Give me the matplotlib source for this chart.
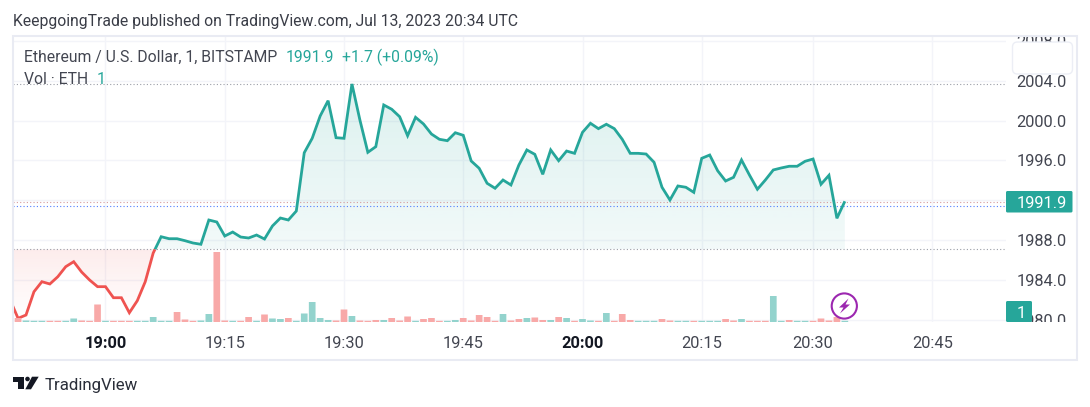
"""TradingView style ETH/USD baseline chart with volume bars."""
import matplotlib
matplotlib.use("Agg")
import matplotlib.pyplot as plt
import numpy as np
from matplotlib.patches import Circle, FancyBboxPatch, Polygon, Rectangle

plt.rcParams["font.family"] = ["Roboto", "DejaVu Sans"]

# one value per minute bar, bar 0 is 19:00
first_bar = -12
close = [
    1982.0, 1980.14, 1980.47, 1982.81, 1983.82, 1983.59, 1984.32, 1985.33, 1985.83, 1984.79,
    1983.99, 1983.32, 1983.32, 1982.21, 1982.21, 1980.70, 1981.91, 1983.82, 1986.70, 1988.34,
    1988.14, 1988.14, 1987.94, 1987.71, 1987.58, 1990.02, 1989.82, 1988.41, 1988.81, 1988.31,
    1988.21, 1988.51, 1988.11, 1989.42, 1990.22, 1990.02, 1990.92, 1996.78, 1998.23, 2000.47,
    2002.01, 1998.29, 1998.23, 2003.69, 2000.07, 1996.82, 1997.39, 2001.58, 2001.15, 2000.40,
    1998.49, 2000.34, 1999.67, 1998.66, 1998.13, 1997.99, 1998.79, 1998.53, 1995.95, 1995.22,
    1993.71, 1993.21, 1994.04, 1993.54, 1995.55, 1997.06, 1996.62, 1994.61, 1997.06, 1995.98,
    1996.95, 1996.72, 1998.83, 1999.74, 1999.20, 1999.64, 1999.20, 1998.13, 1996.72, 1996.72,
    1996.65, 1995.82, 1993.31, 1992.03, 1993.44, 1993.31, 1992.80, 1996.22, 1996.55, 1994.97,
    1993.94, 1994.31, 1996.05, 1994.54, 1993.11, 1994.04, 1995.05, 1995.25, 1995.42, 1995.42,
    1995.92, 1996.15, 1993.61, 1994.51, 1990.19, 1991.9,
]
volume = [
    1.2, 4, 1.5, 1.2, 1.2, 1.2, 1.2, 1.2, 3.5, 1.5,
    1.2, 17.5, 1.2, 1.2, 1.2, 1.2, 1.2, 1.2, 5, 1.2,
    1.2, 10, 2.5, 1.2, 1.5, 8, 70, 1.5, 1.2, 1.2,
    5, 1.2, 7.5, 3.5, 3, 4, 1.2, 8.5, 20, 4,
    2, 1.5, 12.5, 6, 1.5, 1.2, 2, 2, 4, 1.5,
    5.5, 1.2, 3, 4, 1.2, 1.2, 2, 4, 1.5, 7,
    5, 1.2, 8, 1.5, 3, 4, 4.5, 2, 2, 5,
    4, 1.2, 3, 1.5, 1.2, 9, 1.2, 8, 2, 1.2,
    1.2, 1.2, 3, 1.5, 1.2, 1.2, 1.2, 1.2, 1.2, 1.2,
    3, 1.5, 3, 1.2, 1.2, 1.2, 26, 1.2, 2, 1.2,
    1.2, 1.2, 3.5, 1.5, 5, 1.2,
]
# 1 = up candle (green), 0 = down candle (red)
volume_up = [
    0, 0, 1, 1, 1, 0, 0, 1, 1, 0,
    0, 0, 1, 0, 0, 0, 1, 1, 1, 1,
    1, 0, 0, 0, 1, 1, 0, 0, 1, 0,
    0, 1, 0, 1, 1, 0, 1, 1, 1, 1,
    1, 0, 0, 1, 0, 0, 0, 1, 0, 0,
    0, 1, 0, 0, 0, 1, 1, 0, 0, 0,
    0, 0, 1, 0, 0, 1, 0, 0, 1, 0,
    1, 0, 1, 1, 0, 1, 0, 0, 0, 1,
    1, 1, 0, 0, 1, 1, 0, 1, 1, 1,
    0, 0, 1, 0, 0, 0, 1, 1, 0, 1,
    1, 0, 0, 0, 0, 1,
]

price_ticks = [1980, 1984, 1988, 1992, 1996, 2000, 2004, 2008]
price_labels = ["1980.0", "1984.0", "1988.0", "", "1996.0", "2000.0", "2004.0", "2008.0"]
time_ticks = [0, 15, 30, 45, 60, 75, 89, 104]
time_labels = ["19:00", "19:15", "19:30", "19:45", "20:00", "20:15", "20:30", "20:45"]
bold_times = ["19:00", "20:00"]

baseline = 1987.07
session_high = 2003.72
prev_close = 1991.86
bid_line = 1991.43

TEAL = "#26a69a"
RED = "#ef5350"
GRID = "#f3f4f9"
FRAME = "#e9ebf3"
TEXT = "#434651"
W, H = 1090, 407


def px_axes(fig, left, top, right, bottom):
    return fig.add_axes([left / W, 1 - bottom / H, (right - left) / W, (bottom - top) / H])


def gradient(color, a_top, a_bottom):
    rgba = np.zeros((256, 1, 4))
    rgba[..., :3] = matplotlib.colors.to_rgb(color)
    rgba[..., 3] = np.linspace(a_top, a_bottom, 256)[:, None]
    return rgba


fig = plt.figure(figsize=(W / 100, H / 100), dpi=100, facecolor="white")
ax = px_axes(fig, 13, 37, 1006, 322)
vol = ax.twinx()
vol.set_zorder(ax.get_zorder() + 1)
vol.patch.set_visible(False)

bars = np.arange(first_bar, first_bar + len(close))
close = np.array(close)
volume_up = np.array(volume_up)

# volume pane goes over the grid, the price line never reaches the bars
vol_bars = vol.bar(bars, volume, width=0.84, color=np.where(volume_up == 1, "#93d3cd", "#f8a9a8"))
for b in vol_bars:
    b.set_snap(False)
vol.set_ylim(0, 285)
vol.set_yticks([])

# add the point where the line crosses the baseline so both colours meet there
i = int(np.argmax(close > baseline))
x_cross = bars[i - 1] + (baseline - close[i - 1]) / (close[i] - close[i - 1])
x_all = np.insert(bars.astype(float), i, x_cross)
y_all = np.insert(close, i, baseline)

xlim = (-11.635, 113.27)
ylim = (1979.77, 2008.41)

for mask, color, a_top, a_bottom, lo, hi in [
    (y_all >= baseline, TEAL, 0.16, 0.06, baseline, 2004.0),
    (y_all <= baseline, RED, 0.11, 0.0, 1980.0, baseline),
]:
    poly = ax.fill_between(x_all, y_all, baseline, where=mask, facecolor="none", linewidth=0)
    im = ax.imshow(gradient(color, a_top, a_bottom), aspect="auto", zorder=1,
                   extent=(xlim[0], xlim[1], lo, hi), origin="upper")
    im.set_clip_path(poly.get_paths()[0], transform=ax.transData)
    ax.plot(x_all[mask], y_all[mask], color=color, linewidth=2.0, zorder=4,
            solid_joinstyle="miter", solid_capstyle="butt")

dots = (0, (1, 2))
ax.axhline(session_high, color="#9a9da6", linewidth=0.8, linestyle=dots, zorder=2)
ax.axhline(baseline, color="#9a9da6", linewidth=0.8, linestyle=dots, zorder=2)
ax.axhline(prev_close, color="#d59a9c", linewidth=0.8, linestyle=dots, zorder=2)
ax.axhline(bid_line, color="#4f7dff", linewidth=0.8, linestyle=dots, zorder=2)

ax.set_xlim(xlim)
ax.set_ylim(ylim)
vol.set_xlim(xlim)
ax.yaxis.tick_right()
ax.set_yticks(price_ticks, price_labels)
ax.set_xticks(time_ticks, time_labels)
ax.grid(True, color=GRID, linewidth=1.0, zorder=0)
ax.set_axisbelow(True)
ax.tick_params(axis="both", length=0, labelsize=11.8, labelcolor=TEXT)
ax.tick_params(axis="y", pad=7.5)
ax.tick_params(axis="x", pad=10)
for lab in ax.get_xticklabels():
    if lab.get_text() in bold_times:
        lab.set_fontweight("bold")
        lab.set_color("#131722")
for a in (ax, vol):
    for s in a.spines.values():
        s.set_visible(False)

# chrome on top of the chart, in pixel coordinates
ov = fig.add_axes([0, 0, 1, 1], zorder=10)
ov.set_xlim(0, W)
ov.set_ylim(H, 0)
ov.axis("off")
ov.patch.set_visible(False)

ov.add_patch(Rectangle((1007, 26), 68, 11, facecolor="white", edgecolor="none"))
ov.add_patch(Rectangle((1007, 322), 68, 16, facecolor="white", edgecolor="none"))
ov.add_patch(Rectangle((13, 35.5), 1064, 324.5, facecolor="none", edgecolor=FRAME, linewidth=1.5))
ov.add_patch(FancyBboxPatch((1014, 43.5), 57, 29, boxstyle="round,pad=1.5,rounding_size=5",
                            facecolor="white", edgecolor="#eceef5", linewidth=1))

# price tags
ov.add_patch(FancyBboxPatch((1006, 191), 66.5, 21.5, boxstyle="round,pad=0,rounding_size=1.5",
                            facecolor=TEAL, edgecolor="none"))
ov.text(1017, 202, f"{close[-1]:.1f}", color="white", fontsize=11.8, va="center_baseline")
ov.add_patch(FancyBboxPatch((1006, 301), 26, 21, boxstyle="round,pad=0,rounding_size=1.5",
                            facecolor=TEAL, edgecolor="none"))
ov.text(1021, 312, "1", color="white", fontsize=11.8, ha="center", va="center_baseline")

# headline and legend
ov.text(13, 20, "KeepgoingTrade published on TradingView.com, Jul 13, 2023 20:34 UTC",
        color="#3a3d47", fontsize=11.38, va="center_baseline")
ov.text(24, 55.5, "Ethereum / U.S. Dollar, 1, BITSTAMP", color=TEXT, fontsize=11.35, va="center_baseline")
ov.text(286, 55.5, f"{close[-1]:.1f}", color=TEAL, fontsize=11.35, va="center_baseline")
ov.text(342, 55.5, "+1.7 (+0.09%)", color=TEAL, fontsize=11.35, va="center_baseline")
ov.text(24, 78, "Vol · ETH", color=TEXT, fontsize=11.35, va="center_baseline")
ov.text(97, 78, "1", color=TEAL, fontsize=11.35, va="center_baseline")

# lightning badge
ov.add_patch(Circle((844.3, 306), 12.6, facecolor="white", edgecolor="#9c27b0", linewidth=1.5))
ov.add_patch(Polygon([(848.5, 298.5), (839, 307.5), (843.5, 307.5), (840, 313.5),
                      (850, 304.5), (845.5, 304.5)], facecolor="#9c27b0", edgecolor="none"))

# TradingView mark
logo = "#131722"
ov.add_patch(Polygon([(13.3, 376.7), (24, 376.7), (24, 389.3), (18, 389.3), (18, 382), (13.3, 382)],
                     facecolor=logo, edgecolor="none"))
ov.add_patch(Circle((27.5, 379), 2.3, facecolor=logo, edgecolor="none"))
ov.add_patch(Polygon([(32, 376.7), (38.7, 376.7), (31, 389.3), (25.3, 389.3)],
                     facecolor=logo, edgecolor="none"))
ov.text(45, 384, "TradingView", color="#2a2e39", fontsize=12.2, va="center_baseline")

fig.savefig("out.png", dpi=100)
plt.close(fig)
